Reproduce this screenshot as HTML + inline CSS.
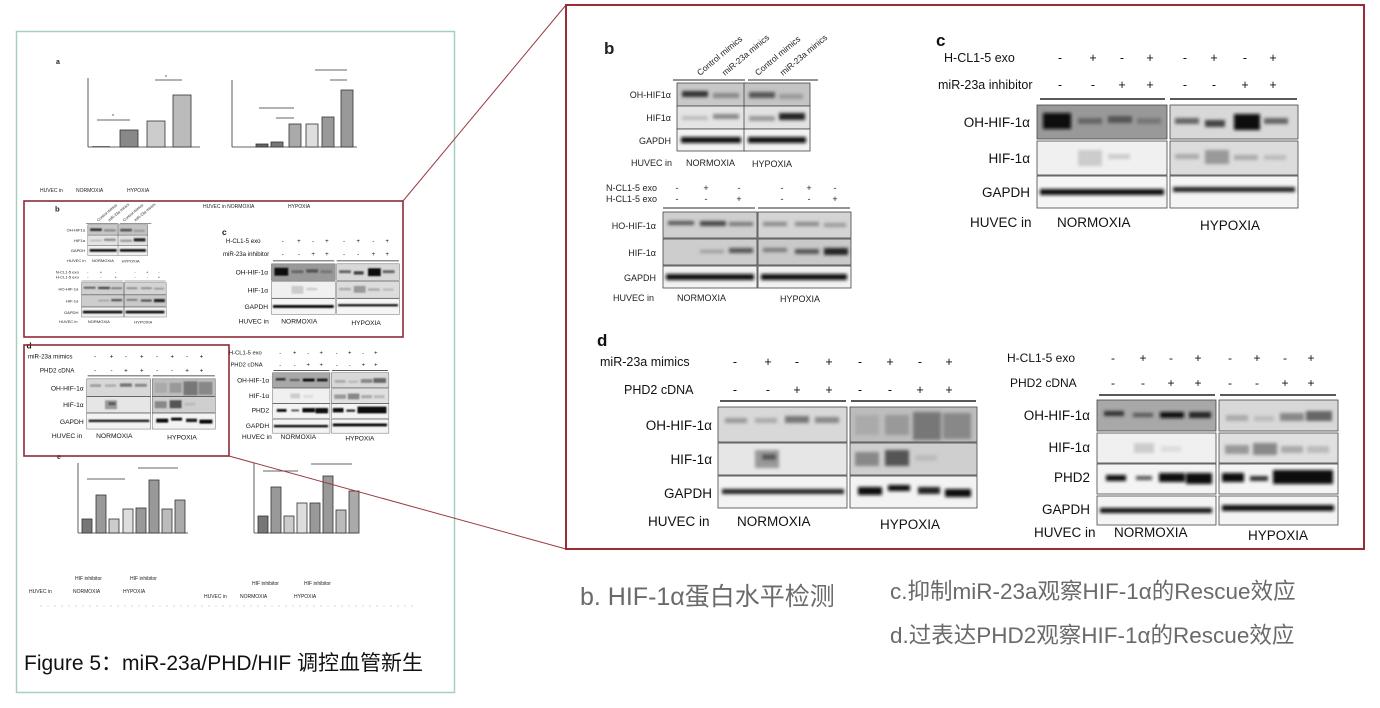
<!DOCTYPE html>
<html><head><meta charset="utf-8"><style>
html,body{margin:0;padding:0;background:#fff;}
svg{display:block;font-family:"Liberation Sans","Noto Sans CJK SC",sans-serif;}
</style></head><body>
<svg width="1380" height="708" viewBox="0 0 1380 708" xmlns="http://www.w3.org/2000/svg">
<defs>
<filter id="bl" x="-20%" y="-50%" width="140%" height="200%"><feGaussianBlur stdDeviation="1.6"/></filter>
<g id="pb" font-size="9" fill="#222">
 <text x="604" y="54" font-size="17" font-weight="bold">b</text>
 <g font-size="8.5">
  <text transform="translate(700,76) rotate(-40)">Control mimics</text>
  <text transform="translate(725,76) rotate(-40)">miR-23a minics</text>
  <text transform="translate(758,76) rotate(-40)">Control mimics</text>
  <text transform="translate(783,76) rotate(-40)">miR-23a minics</text>
 </g>
 <line x1="673" y1="80" x2="745" y2="80" stroke="#555" stroke-width="1.3"/>
 <line x1="748" y1="80" x2="818" y2="80" stroke="#555" stroke-width="1.3"/>
 <g stroke="#444" stroke-width="0.8">
  <rect x="677" y="83" width="68" height="23" fill="#c8c8c8"/><rect x="744" y="83" width="66" height="23" fill="#c4c4c4"/>
  <rect x="677" y="106" width="68" height="23" fill="#e4e4e4"/><rect x="744" y="106" width="66" height="23" fill="#e2e2e2"/>
  <rect x="677" y="129" width="68" height="22" fill="#f2f2f2"/><rect x="744" y="129" width="66" height="22" fill="#f2f2f2"/>
 </g>
 <g filter="url(#bl)">
  <rect x="682" y="91" width="26" height="6" fill="#333"/><rect x="713" y="93" width="26" height="5" fill="#888"/>
  <rect x="749" y="92" width="26" height="6" fill="#555"/><rect x="779" y="94" width="24" height="5" fill="#999"/>
  <rect x="682" y="116" width="26" height="4" fill="#bbb"/><rect x="713" y="114" width="26" height="5" fill="#888"/>
  <rect x="749" y="116" width="26" height="5" fill="#999"/><rect x="779" y="113" width="26" height="7" fill="#222"/>
  <rect x="681" y="137" width="60" height="6" fill="#111"/><rect x="748" y="137" width="58" height="6" fill="#111"/>
 </g>
 <text x="671" y="98" text-anchor="end">OH-HIF1α</text>
 <text x="671" y="121" text-anchor="end">HIF1α</text>
 <text x="671" y="144" text-anchor="end">GAPDH</text>
 <text x="631" y="166">HUVEC in</text><text x="686" y="166">NORMOXIA</text><text x="752" y="167">HYPOXIA</text>
 <text x="606" y="191">N-CL1-5 exo</text><text x="606" y="202">H-CL1-5 exo</text>
 <g text-anchor="middle">
  <text x="677" y="191">-</text><text x="706" y="191">+</text><text x="739" y="191">-</text><text x="782" y="191">-</text><text x="809" y="191">+</text><text x="835" y="191">-</text>
  <text x="677" y="202">-</text><text x="706" y="202">-</text><text x="739" y="202">+</text><text x="782" y="202">-</text><text x="809" y="202">-</text><text x="835" y="202">+</text>
 </g>
 <line x1="663" y1="208" x2="755" y2="208" stroke="#555" stroke-width="1.3"/>
 <line x1="758" y1="208" x2="850" y2="208" stroke="#555" stroke-width="1.3"/>
 <g stroke="#444" stroke-width="0.8">
  <rect x="663" y="212" width="94" height="26" fill="#cfcfcf"/><rect x="758" y="212" width="93" height="26" fill="#d4d4d4"/>
  <rect x="663" y="239" width="94" height="26" fill="#cdcdcd"/><rect x="758" y="239" width="93" height="26" fill="#c9c9c9"/>
  <rect x="663" y="266" width="94" height="22" fill="#f2f2f2"/><rect x="758" y="266" width="93" height="22" fill="#f2f2f2"/>
 </g>
 <g filter="url(#bl)">
  <rect x="668" y="221" width="26" height="4" fill="#555"/><rect x="700" y="221" width="26" height="5" fill="#444"/><rect x="729" y="222" width="24" height="4" fill="#777"/>
  <rect x="763" y="222" width="24" height="4" fill="#888"/><rect x="795" y="222" width="24" height="4" fill="#888"/><rect x="824" y="223" width="22" height="4" fill="#999"/>
  <rect x="700" y="250" width="24" height="3" fill="#999"/><rect x="729" y="248" width="24" height="5" fill="#555"/>
  <rect x="763" y="248" width="24" height="4" fill="#777"/><rect x="795" y="249" width="24" height="5" fill="#555"/><rect x="824" y="248" width="24" height="7" fill="#222"/>
  <rect x="666" y="274" width="88" height="6" fill="#111"/><rect x="761" y="274" width="86" height="6" fill="#111"/>
 </g>
 <text x="656" y="229" text-anchor="end">HO-HIF-1α</text>
 <text x="656" y="256" text-anchor="end">HIF-1α</text>
 <text x="656" y="281" text-anchor="end">GAPDH</text>
 <text x="613" y="301">HUVEC in</text><text x="677" y="301">NORMOXIA</text><text x="780" y="302">HYPOXIA</text>
</g>
<g id="pc" font-size="12.5" fill="#111">
 <text x="936" y="46" font-size="17" font-weight="bold">c</text>
 <text x="944" y="62">H-CL1-5 exo</text><text x="938" y="89">miR-23a inhibitor</text>
 <g text-anchor="middle">
  <text x="1060" y="62">-</text><text x="1093" y="62">+</text><text x="1122" y="62">-</text><text x="1150" y="62">+</text><text x="1185" y="62">-</text><text x="1214" y="62">+</text><text x="1245" y="62">-</text><text x="1273" y="62">+</text>
  <text x="1060" y="89">-</text><text x="1093" y="89">-</text><text x="1122" y="89">+</text><text x="1150" y="89">+</text><text x="1185" y="89">-</text><text x="1214" y="89">-</text><text x="1245" y="89">+</text><text x="1273" y="89">+</text>
 </g>
 <line x1="1040" y1="99" x2="1165" y2="99" stroke="#222" stroke-width="1.5"/>
 <line x1="1170" y1="99" x2="1297" y2="99" stroke="#222" stroke-width="1.5"/>
 <g stroke="#444" stroke-width="0.8">
  <rect x="1037" y="105" width="130" height="34" fill="#999"/><rect x="1170" y="105" width="128" height="34" fill="#d8d8d8"/>
  <rect x="1037" y="141" width="130" height="34" fill="#f0f0f0"/><rect x="1170" y="141" width="128" height="34" fill="#dcdcdc"/>
  <rect x="1037" y="176" width="130" height="32" fill="#f5f5f5"/><rect x="1170" y="176" width="128" height="32" fill="#f5f5f5"/>
 </g>
 <g filter="url(#bl)">
  <rect x="1043" y="113" width="28" height="16" fill="#111"/><rect x="1078" y="118" width="24" height="6" fill="#666"/><rect x="1108" y="116" width="24" height="7" fill="#555"/><rect x="1137" y="118" width="24" height="6" fill="#777"/>
  <rect x="1175" y="118" width="24" height="6" fill="#666"/><rect x="1205" y="120" width="20" height="7" fill="#444"/><rect x="1234" y="114" width="26" height="16" fill="#111"/><rect x="1264" y="118" width="24" height="6" fill="#666"/>
  <rect x="1078" y="150" width="24" height="16" fill="#ccc"/><rect x="1108" y="154" width="22" height="5" fill="#ccc"/>
  <rect x="1175" y="154" width="24" height="5" fill="#aaa"/><rect x="1205" y="150" width="24" height="14" fill="#999"/><rect x="1234" y="155" width="24" height="5" fill="#aaa"/><rect x="1264" y="155" width="22" height="5" fill="#bbb"/>
  <rect x="1040" y="189" width="124" height="6" fill="#111"/><rect x="1173" y="187" width="122" height="5" fill="#222"/>
 </g>
 <text x="1030" y="127" text-anchor="end" font-size="13.5">OH-HIF-1α</text>
 <text x="1030" y="163" text-anchor="end" font-size="13.5">HIF-1α</text>
 <text x="1030" y="197" text-anchor="end" font-size="13.5">GAPDH</text>
 <text x="970" y="227" font-size="13.5">HUVEC in</text><text x="1057" y="227" font-size="13.5">NORMOXIA</text><text x="1200" y="230" font-size="13.5">HYPOXIA</text>
</g>
<g id="pd" font-size="12.5" fill="#111">
 <text x="597" y="346" font-size="17" font-weight="bold">d</text>
 <text x="600" y="366">miR-23a mimics</text><text x="624" y="394">PHD2 cDNA</text>
 <g text-anchor="middle">
  <text x="735" y="366">-</text><text x="768" y="366">+</text><text x="797" y="366">-</text><text x="829" y="366">+</text><text x="860" y="366">-</text><text x="890" y="366">+</text><text x="920" y="366">-</text><text x="949" y="366">+</text>
  <text x="735" y="394">-</text><text x="768" y="394">-</text><text x="797" y="394">+</text><text x="829" y="394">+</text><text x="860" y="394">-</text><text x="890" y="394">-</text><text x="920" y="394">+</text><text x="949" y="394">+</text>
 </g>
 <line x1="720" y1="401" x2="846" y2="401" stroke="#222" stroke-width="1.5"/>
 <line x1="851" y1="401" x2="976" y2="401" stroke="#222" stroke-width="1.5"/>
 <g stroke="#444" stroke-width="0.8">
  <rect x="718" y="407" width="129" height="35" fill="#d8d8d8"/><rect x="850" y="407" width="127" height="35" fill="#bdbdbd"/>
  <rect x="718" y="443" width="129" height="32" fill="#e6e6e6"/><rect x="850" y="443" width="127" height="32" fill="#cfcfcf"/>
  <rect x="718" y="476" width="129" height="32" fill="#f3f3f3"/><rect x="850" y="476" width="127" height="32" fill="#f3f3f3"/>
 </g>
 <g filter="url(#bl)">
  <rect x="725" y="418" width="22" height="5" fill="#999"/><rect x="755" y="418" width="22" height="5" fill="#aaa"/><rect x="785" y="416" width="24" height="7" fill="#777"/><rect x="815" y="417" width="24" height="6" fill="#888"/>
  <rect x="855" y="415" width="24" height="20" fill="#aaa"/><rect x="885" y="415" width="24" height="20" fill="#999"/><rect x="913" y="412" width="28" height="28" fill="#777"/><rect x="943" y="413" width="28" height="26" fill="#888"/>
  <rect x="755" y="450" width="24" height="18" fill="#999"/><rect x="762" y="454" width="14" height="6" fill="#555"/>
  <rect x="855" y="452" width="24" height="14" fill="#888"/><rect x="885" y="450" width="24" height="16" fill="#555"/><rect x="915" y="455" width="22" height="6" fill="#bbb"/>
  <rect x="722" y="489" width="122" height="5" fill="#222"/>
  <rect x="858" y="487" width="24" height="8" fill="#111"/><rect x="888" y="485" width="22" height="6" fill="#111"/><rect x="918" y="487" width="22" height="7" fill="#222"/><rect x="945" y="489" width="26" height="8" fill="#111"/>
 </g>
 <text x="712" y="430" text-anchor="end" font-size="13.5">OH-HIF-1α</text>
 <text x="712" y="464" text-anchor="end" font-size="13.5">HIF-1α</text>
 <text x="712" y="498" text-anchor="end" font-size="13.5">GAPDH</text>
 <text x="648" y="526" font-size="13.5">HUVEC in</text><text x="737" y="526" font-size="13.5">NORMOXIA</text><text x="880" y="529" font-size="13.5">HYPOXIA</text>
</g>
<g id="pe" font-size="12" fill="#111">
 <text x="1007" y="362">H-CL1-5 exo</text><text x="1010" y="387">PHD2 cDNA</text>
 <g text-anchor="middle">
  <text x="1113" y="362">-</text><text x="1143" y="362">+</text><text x="1171" y="362">-</text><text x="1198" y="362">+</text><text x="1230" y="362">-</text><text x="1257" y="362">+</text><text x="1285" y="362">-</text><text x="1311" y="362">+</text>
  <text x="1113" y="387">-</text><text x="1143" y="387">-</text><text x="1171" y="387">+</text><text x="1198" y="387">+</text><text x="1230" y="387">-</text><text x="1257" y="387">-</text><text x="1285" y="387">+</text><text x="1311" y="387">+</text>
 </g>
 <line x1="1099" y1="395" x2="1215" y2="395" stroke="#222" stroke-width="1.5"/>
 <line x1="1220" y1="395" x2="1336" y2="395" stroke="#222" stroke-width="1.5"/>
 <g stroke="#444" stroke-width="0.8">
  <rect x="1097" y="400" width="119" height="31" fill="#a8a8a8"/><rect x="1219" y="400" width="119" height="31" fill="#d8d8d8"/>
  <rect x="1097" y="433" width="119" height="30" fill="#f0f0f0"/><rect x="1219" y="433" width="119" height="30" fill="#e0e0e0"/>
  <rect x="1097" y="464" width="119" height="30" fill="#f4f4f4"/><rect x="1219" y="464" width="119" height="30" fill="#f4f4f4"/>
  <rect x="1097" y="496" width="119" height="29" fill="#f4f4f4"/><rect x="1219" y="496" width="119" height="29" fill="#f4f4f4"/>
 </g>
 <g filter="url(#bl)">
  <rect x="1104" y="411" width="20" height="5" fill="#333"/><rect x="1133" y="413" width="20" height="4" fill="#555"/><rect x="1160" y="412" width="24" height="6" fill="#111"/><rect x="1189" y="412" width="22" height="6" fill="#222"/>
  <rect x="1226" y="415" width="22" height="6" fill="#aaa"/><rect x="1254" y="416" width="20" height="5" fill="#bbb"/><rect x="1280" y="413" width="24" height="8" fill="#888"/><rect x="1306" y="411" width="26" height="10" fill="#666"/>
  <rect x="1134" y="443" width="20" height="10" fill="#ccc"/><rect x="1161" y="446" width="20" height="6" fill="#ddd"/>
  <rect x="1225" y="445" width="24" height="9" fill="#999"/><rect x="1253" y="443" width="24" height="12" fill="#888"/><rect x="1281" y="446" width="22" height="7" fill="#aaa"/><rect x="1307" y="446" width="22" height="7" fill="#bbb"/>
  <rect x="1106" y="475" width="20" height="6" fill="#111"/><rect x="1136" y="476" width="16" height="4" fill="#555"/><rect x="1159" y="473" width="26" height="9" fill="#111"/><rect x="1186" y="473" width="26" height="11" fill="#111"/>
  <rect x="1222" y="473" width="22" height="9" fill="#111"/><rect x="1250" y="476" width="18" height="5" fill="#333"/><rect x="1273" y="470" width="60" height="14" fill="#111"/>
  <rect x="1100" y="508" width="112" height="5" fill="#111"/><rect x="1222" y="505" width="112" height="6" fill="#111"/>
 </g>
 <text x="1090" y="420" text-anchor="end" font-size="13.5">OH-HIF-1α</text>
 <text x="1090" y="452" text-anchor="end" font-size="13.5">HIF-1α</text>
 <text x="1090" y="482" text-anchor="end" font-size="13.5">PHD2</text>
 <text x="1090" y="514" text-anchor="end" font-size="13.5">GAPDH</text>
 <text x="1034" y="537" font-size="13.5">HUVEC in</text><text x="1114" y="537" font-size="13.5">NORMOXIA</text><text x="1248" y="540" font-size="13.5">HYPOXIA</text>
</g>
</defs>

<rect x="16.5" y="31.5" width="438" height="661" fill="#fff" stroke="#a7cfc0" stroke-width="1.5"/>
<g font-size="5" fill="#222" stroke-width="0.8">
 <text x="56" y="64" font-size="7" font-weight="bold">a</text>
 <line x1="88" y1="78" x2="88" y2="147" stroke="#333"/><line x1="88" y1="147" x2="200" y2="147" stroke="#333"/>
 <rect x="92" y="146" width="18" height="1" fill="#666"/>
 <rect x="120" y="130" width="18" height="17" fill="#888" stroke="#333"/>
 <rect x="147" y="121" width="18" height="26" fill="#ccc" stroke="#333"/>
 <rect x="173" y="95" width="18" height="52" fill="#bbb" stroke="#333"/>
 <path d="M97 120H130M155 80H182" stroke="#333"/><text x="112" y="118">*</text><text x="165" y="79">*</text>
 <text x="40" y="192">HUVEC in</text><text x="76" y="192">NORMOXIA</text><text x="127" y="192">HYPOXIA</text>
 <line x1="232" y1="80" x2="232" y2="147" stroke="#333"/><line x1="232" y1="147" x2="357" y2="147" stroke="#333"/>
 <rect x="256" y="144" width="12" height="3" fill="#666" stroke="#333"/>
 <rect x="271" y="142" width="12" height="5" fill="#777" stroke="#333"/>
 <rect x="289" y="124" width="12" height="23" fill="#aaa" stroke="#333"/>
 <rect x="306" y="124" width="12" height="23" fill="#ddd" stroke="#333"/>
 <rect x="322" y="117" width="12" height="30" fill="#999" stroke="#333"/>
 <rect x="341" y="90" width="12" height="57" fill="#999" stroke="#333"/>
 <path d="M259 108H294M276 118H294M315 70H347M330 80H347" stroke="#333"/>
 <text x="203" y="208">HUVEC in NORMOXIA</text><text x="288" y="208">HYPOXIA</text>
</g>
<g font-size="5" fill="#222" stroke-width="0.8">
 <text x="57" y="459" font-size="7" font-weight="bold">e</text>
 <line x1="78" y1="463" x2="78" y2="533" stroke="#333"/><line x1="78" y1="533" x2="188" y2="533" stroke="#333"/>
 <rect x="82" y="519" width="10" height="14" fill="#777" stroke="#333"/>
 <rect x="96" y="495" width="10" height="38" fill="#999" stroke="#333"/>
 <rect x="109" y="519" width="10" height="14" fill="#ccc" stroke="#333"/>
 <rect x="123" y="509" width="10" height="24" fill="#ddd" stroke="#333"/>
 <rect x="136" y="508" width="10" height="25" fill="#999" stroke="#333"/>
 <rect x="149" y="480" width="10" height="53" fill="#999" stroke="#333"/>
 <rect x="162" y="509" width="10" height="24" fill="#bbb" stroke="#333"/>
 <rect x="175" y="500" width="10" height="33" fill="#aaa" stroke="#333"/>
 <path d="M87 479H100M100 479H125M138 468H152M152 468H178" stroke="#333"/>
 <text x="29" y="593">HUVEC in</text><text x="73" y="593">NORMOXIA</text><text x="123" y="593">HYPOXIA</text>
 <text x="75" y="580">HIF inhibitor</text><text x="130" y="580">HIF inhibitor</text>
 <line x1="254" y1="463" x2="254" y2="533" stroke="#333"/><line x1="254" y1="533" x2="358" y2="533" stroke="#333"/>
 <rect x="258" y="516" width="10" height="17" fill="#777" stroke="#333"/>
 <rect x="271" y="487" width="10" height="46" fill="#999" stroke="#333"/>
 <rect x="284" y="516" width="10" height="17" fill="#ccc" stroke="#333"/>
 <rect x="297" y="503" width="10" height="30" fill="#ddd" stroke="#333"/>
 <rect x="310" y="503" width="10" height="30" fill="#999" stroke="#333"/>
 <rect x="323" y="476" width="10" height="57" fill="#999" stroke="#333"/>
 <rect x="336" y="510" width="10" height="23" fill="#bbb" stroke="#333"/>
 <rect x="349" y="491" width="10" height="42" fill="#aaa" stroke="#333"/>
 <path d="M263 471H277M277 471H298M311 464H328M328 464H352" stroke="#333"/>
 <text x="204" y="598">HUVEC in</text><text x="240" y="598">NORMOXIA</text><text x="294" y="598">HYPOXIA</text>
 <text x="252" y="585">HIF inhibitor</text><text x="304" y="585">HIF inhibitor</text>
 <line x1="40" y1="606" x2="415" y2="606" stroke="#ccc" stroke-dasharray="2 5"/>
</g>
<use href="#pb" transform="translate(55,209) scale(0.45) translate(-604,-48)"/>
<use href="#pc" transform="translate(222,232) scale(0.49) translate(-936,-40)"/>
<use href="#pd" transform="translate(28,356) scale(0.497) translate(-600,-361)"/>
<use href="#pe" transform="translate(229,352) scale(0.483) translate(-1007,-357)"/>

<rect x="24" y="201" width="379" height="136" fill="none" stroke="#8f2a35" stroke-width="1.6"/>
<rect x="24" y="345" width="205" height="111" fill="none" stroke="#8f2a35" stroke-width="1.6"/>
<text x="24" y="670" font-size="21" fill="#111">Figure 5：miR-23a/PHD/HIF 调控血管新生</text>

<line x1="403" y1="201" x2="566" y2="5" stroke="#9a3a44" stroke-width="1"/>
<line x1="229" y1="456" x2="566" y2="549" stroke="#9a3a44" stroke-width="1"/>

<rect x="566" y="5" width="798" height="544" fill="#fff" stroke="#9b2b35" stroke-width="2"/>
<use href="#pb"/>
<use href="#pc"/>
<use href="#pd"/>
<use href="#pe"/>

<g fill="#6a6a6a">
 <text x="580" y="605" font-size="25">b. HIF-1α蛋白水平检测</text>
 <text x="890" y="599" font-size="22.5">c.抑制miR-23a观察HIF-1α的Rescue效应</text>
 <text x="890" y="643" font-size="22.5">d.过表达PHD2观察HIF-1α的Rescue效应</text>
</g>
</svg>
</body></html>
